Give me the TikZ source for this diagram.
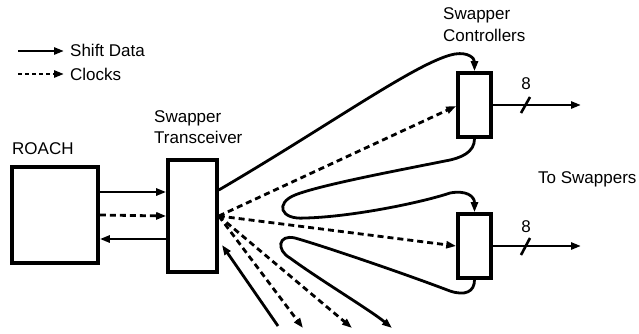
\documentclass[tikz,border=0pt]{standalone}
\usepackage{fontspec}
\setmainfont{Liberation Sans}
\usetikzlibrary{arrows.meta}
\begin{document}
\begin{tikzpicture}[x=1pt,y=-1pt,
  box/.style={draw,line width=3.6pt,inner sep=0pt},
  lbl/.style={inner sep=0pt,anchor=base west,font=\fontsize{17}{21}\selectfont},
  data/.style={line width=2.8pt,-{Triangle[length=10pt,width=7pt]}},
  clk/.style={line width=2.8pt,dash pattern=on 6pt off 4pt,-{Triangle[length=10pt,width=7pt]}},
  plain/.style={line width=2.6pt}]
\useasboundingbox (0,0) rectangle (639,333);
% legend
\coordinate (l1a) at (18,51); \coordinate (l1b) at (64,51);
\coordinate (l2a) at (18,74); \coordinate (l2b) at (64,74);
\draw[data] (l1a) -- (l1b);
\draw[clk,dash pattern=on 4pt off 3pt] (l2a) -- (l2b);
\node[lbl] (tl1) at (70,56) {Shift Data};
\node[lbl] (tl2) at (70,80) {Clocks};
% boxes
\node[box,minimum width=86pt,minimum height=96pt] (roach) at (55,215) {};
\node[box,minimum width=49pt,minimum height=112pt] (tr) at (192.5,216) {};
\node[box,minimum width=33pt,minimum height=64pt] (c1) at (474.5,105) {};
\node[box,minimum width=33pt,minimum height=64pt] (c2) at (474.5,246) {};
% labels
\node[lbl] (troach) at (12,154) {ROACH};
\node[lbl] (ttr1) at (154,122) {Swapper};
\node[lbl] (ttr2) at (154,143) {Transceiver};
\node[lbl] (tc1) at (443,19) {Swapper};
\node[lbl] (tc2) at (443,41) {Controllers};
\node[lbl] (tsw) at (538,183) {To Swappers};
\node[lbl,anchor=base] (n1) at (526,89) {8};
\node[lbl,anchor=base] (n2) at (526,232) {8};
% roach <-> transceiver
\draw[data] (roach.east |- 0,192) -- (tr.west |- 0,192);
\draw[clk] (roach.east) -- (tr.west);
\draw[data] (tr.west |- 0,239) -- (roach.east |- 0,239);
% to controller 1
\draw[data] (tr.east |- 0,190) .. controls (330,125) and (420,60) .. (455,54)
  .. controls (468,52) and (474.5,58) .. (c1.north);
\draw[clk] (tr.east) -- ([yshift=-1pt]c1.west);
\draw[clk] (tr.east) -- (c2.west);
% loop between controllers
\draw[data] (c1.south) .. controls (474.5,152) and (462,158) .. (445,161)
  .. controls (400,170) and (320,185) .. (295,195)
  .. controls (275,203) and (280,220) .. (305,218)
  .. controls (350,217) and (420,203) .. (450,193)
  .. controls (466,190) and (474.5,196) .. (c2.north);
% loop from controller 2 onward
\coordinate (e3) at (392,328);
\draw[data] (c2.south) .. controls (474.5,292) and (465,296) .. (450,291)
  .. controls (400,272) and (320,245) .. (295,238)
  .. controls (278,234) and (276,250) .. (290,258)
  .. controls (320,280) and (370,310) .. (e3);
% downward clocks
\coordinate (d1) at (303,328);
\coordinate (d2) at (352,328);
\draw[clk] (tr.east) -- (d1);
\draw[clk] (tr.east) -- (d2);
% return data
\coordinate (s1) at (278,326);
\coordinate (s2) at (222,245);
\draw[data] (s1) -- (s2);
% outputs
\coordinate (o1) at (581,105);
\coordinate (o2) at (581,246);
\draw[data] (c1.east) -- (o1);
\draw[data] (c2.east) -- (o2);
\coordinate (k1a) at (521,113); \coordinate (k1b) at (530,97);
\coordinate (k2a) at (521,255); \coordinate (k2b) at (530,238);
\draw[plain] (k1a) -- (k1b);
\draw[plain] (k2a) -- (k2b);
\end{tikzpicture}
\end{document}
